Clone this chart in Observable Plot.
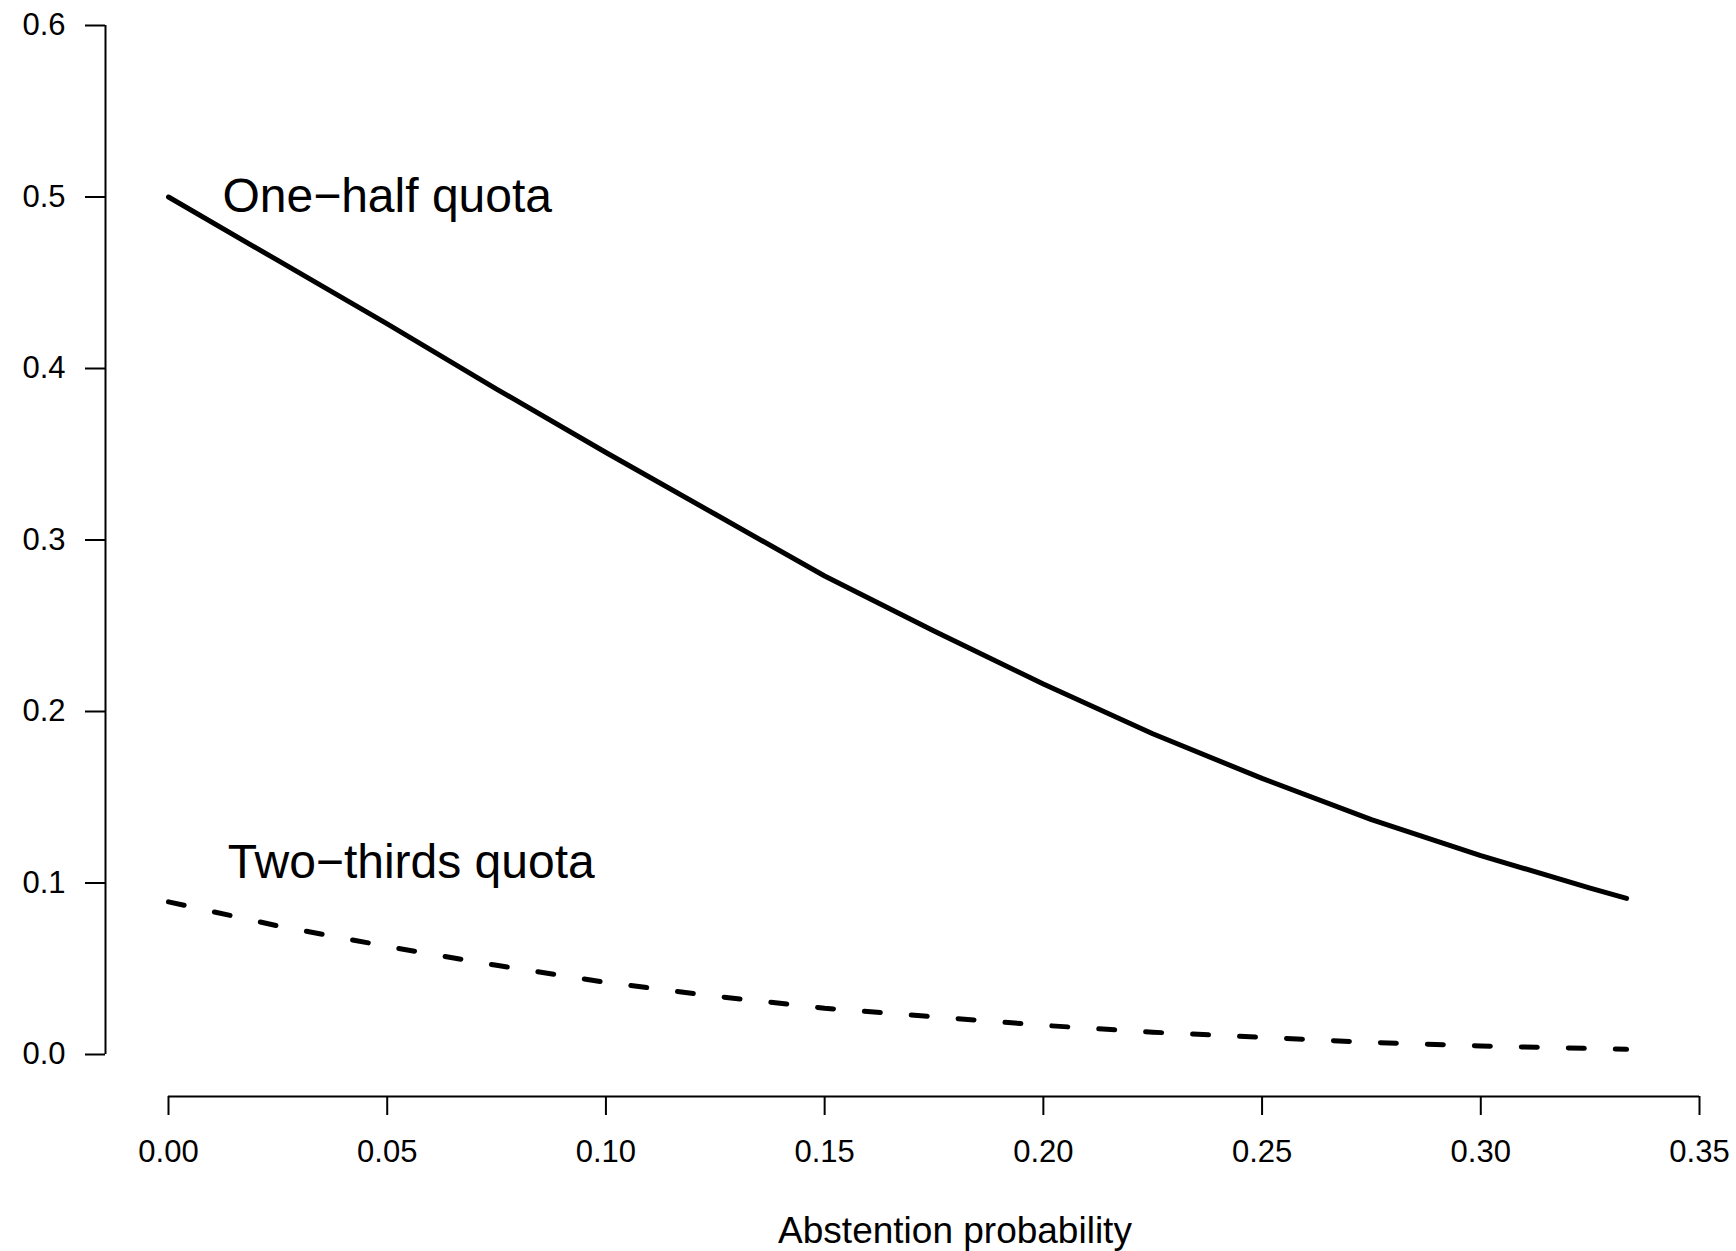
<!DOCTYPE html>
<html>
<head>
<meta charset="utf-8">
<script src="https://cdn.jsdelivr.net/npm/d3@7"></script>
<script src="https://cdn.jsdelivr.net/npm/@observablehq/plot@0.6"></script>
<style>
  html, body { margin: 0; padding: 0; background: #fff; }
  #chart svg { display: block; }
</style>
</head>
<body>
<div id="chart"></div>
<script>
// ---- data ----
const abstention = [0, 0.025, 0.05, 0.075, 0.1, 0.125, 0.15, 0.175, 0.2, 0.225, 0.25, 0.275, 0.3, 0.325, 1/3];
const oneHalf    = [0.500, 0.463, 0.426, 0.388, 0.351, 0.315, 0.279, 0.247, 0.216, 0.187, 0.161, 0.137, 0.116, 0.097, 0.091];
const twoThirds  = [0.089, 0.075, 0.063, 0.052, 0.042, 0.034, 0.027, 0.022, 0.017, 0.013, 0.010, 0.007, 0.005, 0.0035, 0.003];

const xTicks = [0, 0.05, 0.10, 0.15, 0.20, 0.25, 0.30, 0.35];
const yTicks = [0, 0.1, 0.2, 0.3, 0.4, 0.5, 0.6];

const labels = ["One\u2212half quota", "Two\u2212thirds quota"];
const labelX = [0.05, 0.0555];
const labelY = [0.5, 0.112];

const xLabel = "Abstention probability";

// ---- tables built from the arrays ----
const halfData = abstention.map((x, i) => ({x, y: oneHalf[i]}));
const thirdsData = abstention.map((x, i) => ({x, y: twoThirds[i]}));
const labelData = labels.map((t, i) => ({t, x: labelX[i], y: labelY[i]}));

const chart = Plot.plot({
  width: 1736,
  height: 1251,
  marginLeft: 168,
  marginRight: 37,
  marginTop: 25,
  marginBottom: 197,
  style: {fontFamily: "'Liberation Sans', Arial, sans-serif", color: "#000", background: "#fff"},
  x: {domain: [0, 0.35]},
  y: {domain: [0, 0.6]},
  marks: [
    // y axis (R style, offset left)
    Plot.ruleX([0], {y1: 0, y2: 0.6, dx: -63, stroke: "#000", strokeWidth: 2}),
    Plot.axisY({ticks: yTicks, tickFormat: d => d.toFixed(1), tickSize: 20, tickPadding: 20,
                dx: -63, fontSize: 31, stroke: "#000", strokeWidth: 2, label: null}),
    // x axis (R style, offset down)
    Plot.ruleY([0], {x1: 0, x2: 0.35, dy: 42, stroke: "#000", strokeWidth: 2}),
    Plot.axisX({ticks: xTicks, tickFormat: d => d.toFixed(2), tickSize: 19, tickPadding: 24,
                dy: 42, fontSize: 31, stroke: "#000", strokeWidth: 2, label: null}),
    Plot.text([xLabel], {frameAnchor: "bottom", text: d => d, dx: 21, dy: 188, fontSize: 37, fill: "#000"}),
    // curves
    Plot.line(halfData, {x: "x", y: "y", stroke: "#000", strokeWidth: 5, strokeLinecap: "round", strokeLinejoin: "round"}),
    Plot.line(thirdsData, {x: "x", y: "y", stroke: "#000", strokeWidth: 5, strokeDasharray: "16,31",
                           strokeLinecap: "round", strokeLinejoin: "round"}),
    // annotations
    Plot.text(labelData, {x: "x", y: "y", text: "t", fontSize: 48, fill: "#000"})
  ]
});

document.getElementById("chart").appendChild(chart);
</script>
</body>
</html>
